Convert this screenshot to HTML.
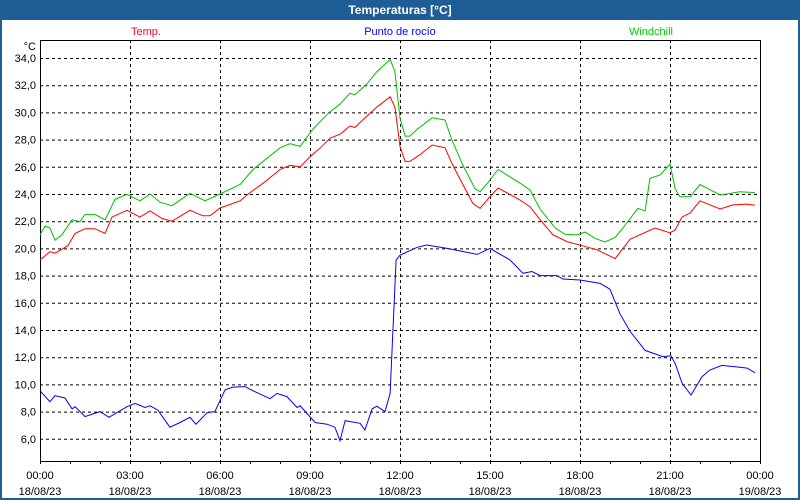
<!DOCTYPE html>
<html><head><meta charset="utf-8"><style>
html,body{margin:0;padding:0;background:#fff}
#wrap{position:relative;width:800px;height:500px;overflow:hidden;background:#fff;font-family:"Liberation Sans",sans-serif}
#title{position:absolute;left:0;top:0;width:800px;height:20px;background:#1e5d96;color:#fff;font-weight:bold;font-size:12px;text-align:center;line-height:20px}
#frame{position:absolute;left:0;top:20px;width:796px;height:478px;border:2px solid #1e5d96;border-top:0}
svg{position:absolute;left:0;top:0}
</style></head><body>
<div id="wrap">
<div id="title">Temperaturas [°C]</div>
<div id="frame"></div>
<svg id="chart" width="800" height="500"></svg>
</div>
<script>
const tempHours=[0,0.33,0.5,0.93,1.17,1.5,1.83,2.17,2.4,2.9,3.33,3.67,4.07,4.4,5.0,5.43,5.67,6.0,6.67,7.0,7.5,8.0,8.33,8.67,9.0,9.33,9.67,10.0,10.33,10.5,10.78,11.23,11.67,11.83,12.0,12.17,12.33,12.67,13.07,13.5,13.73,14.07,14.43,14.67,15.0,15.27,16.0,16.33,16.67,17.1,17.57,18.07,18.57,19.17,19.67,20.5,21.0,21.17,21.4,21.67,22.0,22.67,23.1,23.57,23.83];
const tempValues=[19.15,19.76,19.65,20.2,21.1,21.45,21.45,21.1,22.3,22.8,22.3,22.75,22.2,22.0,22.8,22.4,22.4,22.97,23.5,24.1,24.9,25.8,26.1,26.0,26.74,27.36,28.1,28.4,29.0,28.9,29.5,30.4,31.15,30.4,27.5,26.4,26.4,26.9,27.6,27.4,26.25,24.8,23.3,22.95,23.8,24.44,23.56,23.07,22.1,21.0,20.5,20.2,19.9,19.25,20.67,21.5,21.15,21.35,22.3,22.6,23.5,22.9,23.2,23.26,23.17];
const windHours=[0,0.17,0.33,0.5,0.73,1.07,1.33,1.5,1.83,2.17,2.5,2.9,3.33,3.67,4.0,4.4,5.0,5.5,6.0,6.67,7.1,8.0,8.33,8.67,9.07,9.33,9.67,10.0,10.33,10.5,10.9,11.23,11.67,11.83,12.0,12.17,12.33,12.57,13.07,13.5,13.73,14.1,14.5,14.67,14.93,15.27,16.0,16.33,16.67,17.17,17.5,17.9,18.17,18.5,18.83,19.17,19.43,19.93,20.17,20.33,20.67,21.0,21.17,21.33,21.67,22.0,22.67,23.33,23.83];
const windValues=[20.99,21.65,21.5,20.6,21.0,22.1,21.96,22.5,22.5,22.1,23.6,23.98,23.5,24.0,23.4,23.14,24.05,23.5,24.0,24.7,25.8,27.4,27.7,27.5,28.7,29.3,30.05,30.6,31.4,31.3,32.1,33.0,33.9,33.0,29.57,28.26,28.26,28.76,29.6,29.44,27.97,26.1,24.4,24.17,24.83,25.8,24.8,24.3,22.9,21.5,21.04,20.99,21.2,20.74,20.47,20.8,21.5,22.95,22.75,25.15,25.4,26.2,24.4,23.8,23.8,24.7,23.93,24.17,24.1];
const dewHours=[0,0.33,0.5,0.83,1.07,1.17,1.5,2.0,2.3,2.9,3.17,3.5,3.67,3.93,4.33,4.67,5.0,5.2,5.57,5.83,6.17,6.43,6.83,7.23,7.67,7.9,8.23,8.57,8.67,9.17,9.57,9.83,10.0,10.17,10.67,10.83,11.07,11.23,11.5,11.67,11.77,11.87,12.0,12.57,12.9,13.57,14.57,15.0,15.67,16.1,16.4,16.67,17.23,17.43,18.0,18.67,19.0,19.33,19.67,20.17,20.77,21.03,21.17,21.4,21.7,22.07,22.33,22.73,23.33,23.57,23.83];
const dewValues=[9.54,8.73,9.17,9.0,8.2,8.36,7.63,8.0,7.58,8.36,8.6,8.3,8.43,8.1,6.85,7.2,7.58,7.07,7.92,8.0,9.6,9.8,9.84,9.4,8.95,9.34,9.1,8.3,8.43,7.2,7.07,6.85,5.86,7.33,7.14,6.65,8.2,8.4,8.0,9.34,14.24,19.15,19.5,20.08,20.25,20.0,19.56,20.0,19.15,18.17,18.3,18.0,18.0,17.75,17.68,17.43,17.0,15.2,13.9,12.5,12.04,12.1,11.55,10.1,9.22,10.57,11.06,11.4,11.26,11.2,10.86];
const yTicks=[6,8,10,12,14,16,18,20,22,24,26,28,30,32,34];
const xTickHours=[0,3,6,9,12,15,18,21,24];
const xTickTimes=["00:00","03:00","06:00","09:00","12:00","15:00","18:00","21:00","00:00"];
const xTickDates=["18/08/23","18/08/23","18/08/23","18/08/23","18/08/23","18/08/23","18/08/23","18/08/23","19/08/23"];

const NS="http://www.w3.org/2000/svg";
const svg=document.getElementById('chart');
const L=40,R=760,T=40,B=461;
function xs(h){return L+h*(R-L)/24;}
function ys(v){return 58+(34-v)*13.6;}
function mk(tag,attrs,parent){const e=document.createElementNS(NS,tag);for(const k in attrs)e.setAttribute(k,attrs[k]);(parent||svg).appendChild(e);return e;}

const grid=mk('g',{});


yTicks.forEach(v=>{
  const ln=mk('line',{x1:L,x2:R,y1:ys(v)+0.5,y2:ys(v)+0.5,stroke:'#000','stroke-dasharray':'3,3','stroke-width':1},grid);
  
  
  const t=mk('text',{x:36,y:ys(v)+4,'text-anchor':'end','font-size':11,fill:'#000'});
  t.textContent=v.toFixed(1).replace('.',',');
  
  
});
xTickHours.forEach((h,i)=>{
  if(h>0&&h<24){const ln=mk('line',{x1:xs(h)+0.5,x2:xs(h)+0.5,y1:T,y2:B,stroke:'#000','stroke-dasharray':'3,3'},grid);
  
  }
  const t1=mk('text',{x:xs(h),y:479,'text-anchor':'middle','font-size':11,fill:'#000'});
  t1.textContent=xTickTimes[i];
  
  
  const t2=mk('text',{x:xs(h),y:495,'text-anchor':'middle','font-size':11,fill:'#000'});
  t2.textContent=xTickDates[i];
  
  
});
for(let h=0;h<=24;h++){
  const tk=mk('line',{x1:xs(h)+0.5,x2:xs(h)+0.5,y1:B,y2:B+3,stroke:'#000'});
  
  
}
const axes=mk('rect',{x:L+0.5,y:T+0.5,width:R-L,height:B-T,fill:'none',stroke:'#000','stroke-width':1});


const unit=mk('text',{x:36,y:50,'text-anchor':'end','font-size':11,fill:'#000'});
unit.textContent='°C';



function series(hours,vals,color,name){
  const p=mk('polyline',{points:hours.map((h,i)=>xs(h).toFixed(1)+','+ys(vals[i]).toFixed(1)).join(' '),fill:'none',stroke:color,'stroke-width':1});
  
  
}
series(dewHours,dewValues,'#0000ff','dew-point-line');
series(windHours,windValues,'#00c000','windchill-line');
series(tempHours,tempValues,'#ff0000','temp-line');

[['Temp.',146,'#ff0033','legend-temp'],['Punto de rocío',400,'#0000ff','legend-dew-point'],['Windchill',651,'#00cc00','legend-windchill']].forEach(a=>{
  const t=mk('text',{x:a[1],y:35,'text-anchor':'middle','font-size':11,fill:a[2]});
  t.textContent=a[0];
  
  
});
</script>
</body></html>
